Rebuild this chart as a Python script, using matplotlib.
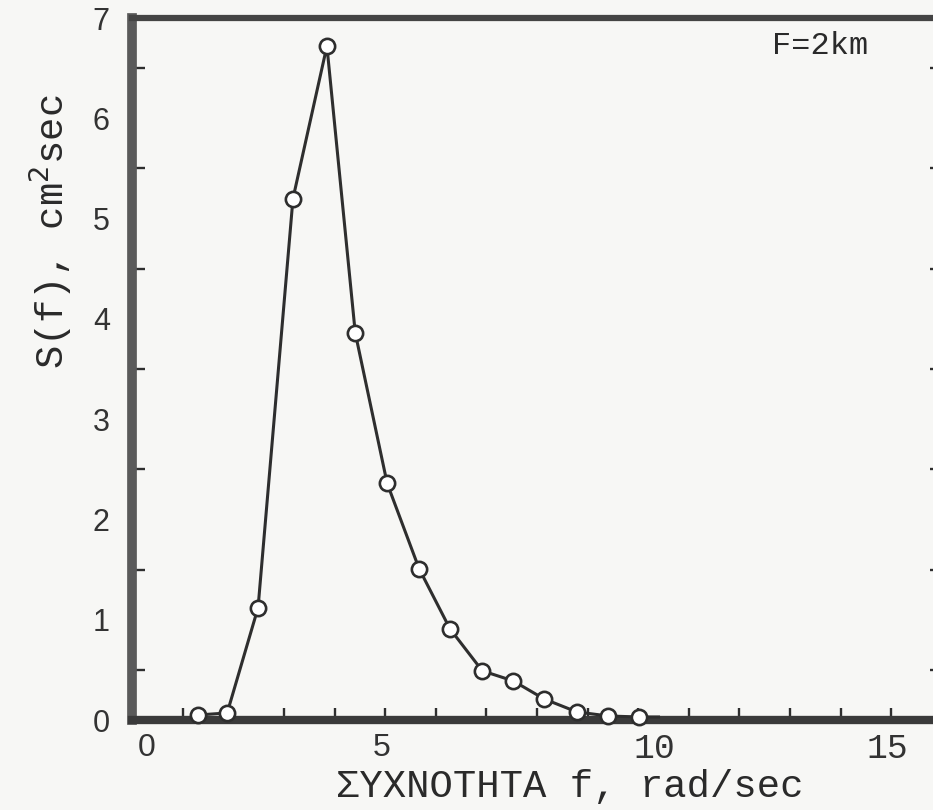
import matplotlib
matplotlib.use('Agg')
import matplotlib.pyplot as plt
from matplotlib.ticker import MultipleLocator, FixedLocator
from matplotlib.transforms import ScaledTranslation

# spectral density S(f) for F = 2 km
freq = [1.30, 1.88, 2.49, 3.18, 3.85, 4.41, 5.04, 5.67, 6.28, 6.92, 7.53, 8.14, 8.79, 9.41, 10.02, 10.40]
spec = [0.05, 0.07, 1.12, 5.20, 6.72, 3.86, 2.36, 1.51, 0.91, 0.49, 0.39, 0.21, 0.08, 0.04, 0.03, 0.03]
n_marked = 15   # last entry is the tail of the line, no circle

x_ticklabels = ['0', '5', '10', '15']
x_labelled = [0, 5, 10, 15]
y_labelled = [0, 1, 2, 3, 4, 5, 6, 7]
# typed labels sit a little off their ticks (pixels)
x_label_shift = [15, -4, 16, -4]

paper = '#f7f7f5'
ink = '#2e2e2e'

fig = plt.figure(figsize=(9.33, 8.10), dpi=100, facecolor=paper)
ax = fig.add_axes([132 / 933, 1 - 720 / 810, 810 / 933, 702 / 810])
ax.set_facecolor(paper)

ax.plot(freq, spec, color=ink, lw=2.2, marker='o', markersize=11,
        markerfacecolor='white', markeredgecolor=ink, markeredgewidth=1.9,
        markevery=list(range(n_marked)), zorder=3, clip_on=False)

ax.set_xlim(0, 16)
ax.set_ylim(0, 7)

ax.xaxis.set_major_locator(FixedLocator(x_labelled))
ax.xaxis.set_minor_locator(MultipleLocator(1))
ax.set_xticklabels(x_ticklabels)
ax.yaxis.set_major_locator(FixedLocator(y_labelled))
ax.yaxis.set_minor_locator(MultipleLocator(0.5))

ax.tick_params(axis='both', which='both', direction='in', color=ink, width=1.7, length=9)
ax.tick_params(axis='y', which='both', right=True)
ax.tick_params(axis='y', which='major', left=False, right=False, pad=16)
ax.tick_params(axis='x', which='major', pad=9)

for lab, dx in zip(ax.get_xticklabels(), x_label_shift):
    if lab.get_text() in ('10', '15'):
        lab.set_fontfamily('Liberation Mono')
        lab.set_fontsize(25)
    else:
        lab.set_fontfamily('Liberation Sans')
        lab.set_fontsize(23)
    lab.set_color('#333333')
    lab.set_transform(lab.get_transform() + ScaledTranslation(dx / 100, 0, fig.dpi_scale_trans))
for lab in ax.get_yticklabels():
    lab.set_fontfamily('Liberation Sans')
    lab.set_fontsize(22)
    lab.set_color('#333333')

ax.spines['left'].set_linewidth(7)
ax.spines['left'].set_color('#5a5a5a')
ax.spines['bottom'].set_linewidth(6)
ax.spines['bottom'].set_color('#3a3a3a')
ax.spines['top'].set_linewidth(4.5)
ax.spines['top'].set_color('#444444')
ax.spines['right'].set_linewidth(4)
ax.spines['right'].set_color('#444444')

ax.set_xlabel('ΣΥΧΝΟΤΗΤΑ f, rad/sec', fontfamily='Liberation Mono', fontsize=28,
              color='#2a2a2a')
ax.set_ylabel('S(f), cm$^{2}$sec', fontfamily='Liberation Mono', fontsize=28,
              color='#2a2a2a')
ax.xaxis.set_label_coords((570 - 132) / 810, -49 / 702)
ax.yaxis.set_label_coords(-58 / 810, (720 - 232) / 702)

ax.text(13.6, 6.72, 'F=2km', fontfamily='Liberation Mono', fontsize=23,
        color='#2a2a2a', ha='center', va='center')

fig.savefig('out.png', dpi=100, facecolor=paper)
